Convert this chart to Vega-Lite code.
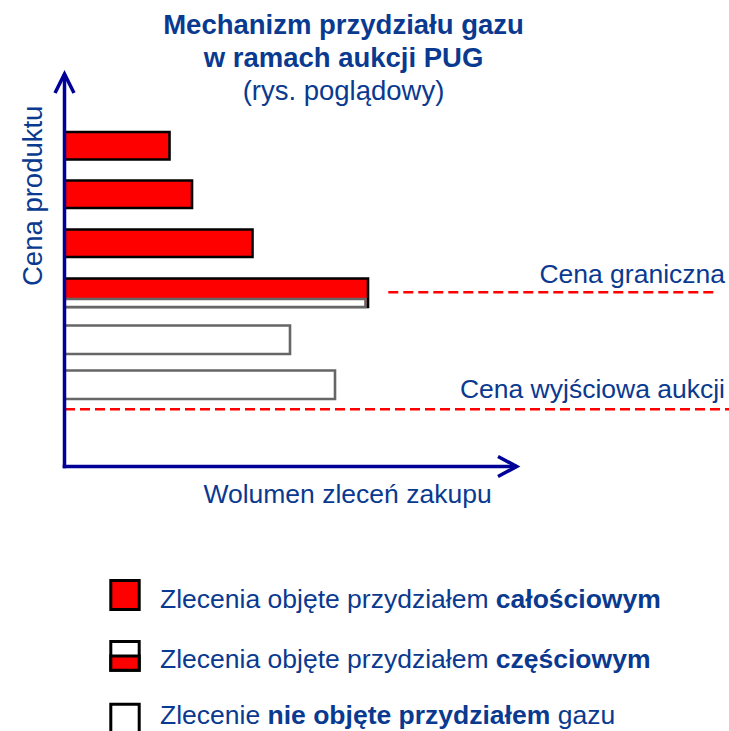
{
  "$schema": "https://vega.github.io/schema/vega-lite/v6.json",
  "width": 729,
  "height": 731,
  "padding": 0,
  "autosize": {"type": "none"},
  "background": "#ffffff",
  "config": {"view": {"stroke": null}, "text": {"font": "Liberation Sans", "color": "#0a3a8f"}},
  "datasets": {
    "zlecenia": [
      {"zlecenie": 1, "czesc": "przydzielona", "wolumen_od": 0, "wolumen": 105, "cena_od": 307, "cena_do": 334.5},
      {"zlecenie": 2, "czesc": "przydzielona", "wolumen_od": 0, "wolumen": 127.5, "cena_od": 258.5, "cena_do": 286},
      {"zlecenie": 3, "czesc": "przydzielona", "wolumen_od": 0, "wolumen": 188, "cena_od": 209.5, "cena_do": 237},
      {"zlecenie": 4, "czesc": "przydzielona", "wolumen_od": 0, "wolumen": 303.5, "cena_od": 159.5, "cena_do": 188},
      {"zlecenie": 4, "czesc": "nieprzydzielona", "wolumen_od": 0, "wolumen": 301, "cena_od": 159.5, "cena_do": 167.5},
      {"zlecenie": 5, "czesc": "nieprzydzielona", "wolumen_od": 0, "wolumen": 225.5, "cena_od": 112.5, "cena_do": 141},
      {"zlecenie": 6, "czesc": "nieprzydzielona", "wolumen_od": 0, "wolumen": 270.5, "cena_od": 67.5, "cena_do": 96}
    ],
    "legenda": [
      {"wpis": 1, "czesc": "przydzielona", "wolumen_od": 46.3, "wolumen_do": 74.7, "cena_od": -143, "cena_do": -114},
      {"wpis": 2, "czesc": "nieprzydzielona", "wolumen_od": 46.3, "wolumen_do": 74.7, "cena_od": -203.7, "cena_do": -175},
      {"wpis": 2, "czesc": "przydzielona", "wolumen_od": 46.3, "wolumen_do": 74.7, "cena_od": -203.7, "cena_do": -189.5},
      {"wpis": 3, "czesc": "nieprzydzielona", "wolumen_od": 46.3, "wolumen_do": 74.7, "cena_od": -268, "cena_do": -237.7}
    ],
    "poziomy": [
      {"nazwa": "Cena graniczna", "cena": 174.2, "wolumen_od": 323.8, "wolumen_do": 652.2},
      {"nazwa": "Cena wyjściowa aukcji", "cena": 57.2, "wolumen_od": 0.5, "wolumen_do": 664.5}
    ],
    "os_cen": [{"wolumen": 0, "cena_od": -1.8, "cena_do": 392.5}],
    "os_wolumenu": [{"cena": 0, "wolumen_od": -1.8, "wolumen_do": 452.2}],
    "groty": [
      {"os": "cena", "wolumen": 0, "cena": 392.5},
      {"os": "wolumen", "wolumen": 452.2, "cena": 0}
    ],
    "tytul": [
      {"tekst": "Mechanizm przydziału gazu", "wolumen": 279, "cena": 432.2},
      {"tekst": "w ramach aukcji PUG", "wolumen": 279, "cena": 399.8}
    ],
    "podtytul": [{"tekst": "(rys. poglądowy)", "wolumen": 279, "cena": 366.5}],
    "etykiety_cen": [
      {"tekst": "Cena graniczna", "wolumen": 660.5, "cena": 183.2},
      {"tekst": "Cena wyjściowa aukcji", "wolumen": 660.5, "cena": 68.8}
    ],
    "tytul_x": [{"tekst": "Wolumen zleceń zakupu", "wolumen": 283, "cena": -36.8}],
    "tytul_y": [{"tekst": "Cena produktu", "wolumen": -23, "cena": 270.7}],
    "legenda_zwykly": [
      {"tekst": "Zlecenia objęte przydziałem", "wolumen": 95.5, "cena": -141.8},
      {"tekst": "Zlecenia objęte przydziałem", "wolumen": 95.5, "cena": -201.2},
      {"tekst": "Zlecenie", "wolumen": 95.5, "cena": -257.8},
      {"tekst": "gazu", "wolumen": 493.2, "cena": -257.8}
    ],
    "legenda_pogrubiony": [
      {"tekst": "całościowym", "wolumen": 431.3, "cena": -141.8},
      {"tekst": "częściowym", "wolumen": 431.3, "cena": -201.2},
      {"tekst": "nie objęte przydziałem", "wolumen": 203, "cena": -257.8}
    ]
  },
  "layer": [
    {
      "data": {"name": "zlecenia"},
      "mark": {"type": "rect", "strokeWidth": 2.6},
      "encoding": {
        "x": {"field": "wolumen_od", "type": "quantitative", "scale": {"domain": [-64.5, 664.5], "nice": false, "zero": false}, "axis": null},
        "x2": {"field": "wolumen"},
        "y": {"field": "cena_od", "type": "quantitative", "scale": {"domain": [-264.5, 466.5], "nice": false, "zero": false}, "axis": null},
        "y2": {"field": "cena_do"},
        "fill": {"field": "czesc", "type": "nominal", "scale": {"domain": ["przydzielona", "nieprzydzielona"], "range": ["#ff0000", "#ffffff"]}, "legend": null},
        "stroke": {"field": "czesc", "type": "nominal", "scale": {"domain": ["przydzielona", "nieprzydzielona"], "range": ["#000000", "#666666"]}, "legend": null}
      }
    },
    {
      "data": {"name": "legenda"},
      "mark": {"type": "rect", "strokeWidth": 3},
      "encoding": {
        "x": {"field": "wolumen_od", "type": "quantitative", "axis": null},
        "x2": {"field": "wolumen_do"},
        "y": {"field": "cena_od", "type": "quantitative", "axis": null},
        "y2": {"field": "cena_do"},
        "fill": {"field": "czesc", "type": "nominal", "legend": null},
        "stroke": {"value": "#000000"}
      }
    },
    {
      "data": {"name": "poziomy"},
      "mark": {"type": "rule", "color": "#ff0000", "strokeWidth": 2.6, "strokeDash": [10, 5]},
      "encoding": {
        "x": {"field": "wolumen_od", "type": "quantitative", "axis": null},
        "x2": {"field": "wolumen_do"},
        "y": {"field": "cena", "type": "quantitative", "axis": null}
      }
    },
    {
      "data": {"name": "os_cen"},
      "mark": {"type": "rule", "color": "#000099", "strokeWidth": 3.5},
      "encoding": {
        "x": {"field": "wolumen", "type": "quantitative", "axis": null},
        "y": {"field": "cena_od", "type": "quantitative", "axis": null},
        "y2": {"field": "cena_do"}
      }
    },
    {
      "data": {"name": "os_wolumenu"},
      "mark": {"type": "rule", "color": "#000099", "strokeWidth": 3.5},
      "encoding": {
        "x": {"field": "wolumen_od", "type": "quantitative", "axis": null},
        "x2": {"field": "wolumen_do"},
        "y": {"field": "cena", "type": "quantitative", "axis": null}
      }
    },
    {
      "data": {"name": "groty"},
      "mark": {"type": "point", "filled": false, "stroke": "#000099", "strokeWidth": 3.5, "size": 400, "opacity": 1, "strokeJoin": "miter"},
      "encoding": {
        "x": {"field": "wolumen", "type": "quantitative", "axis": null},
        "y": {"field": "cena", "type": "quantitative", "axis": null},
        "shape": {"field": "os", "type": "nominal", "scale": {"domain": ["cena", "wolumen"], "range": ["M-0.95,1.9L0,0L0.95,1.9", "M-1.87,-1L0,0L-1.87,1"]}, "legend": null}
      }
    },
    {
      "data": {"name": "tytul"},
      "mark": {"type": "text", "fontSize": 27.5, "fontWeight": "bold", "align": "center", "baseline": "alphabetic"},
      "encoding": {
        "x": {"field": "wolumen", "type": "quantitative", "axis": null},
        "y": {"field": "cena", "type": "quantitative", "axis": null},
        "text": {"field": "tekst", "type": "nominal"}
      }
    },
    {
      "data": {"name": "podtytul"},
      "mark": {"type": "text", "fontSize": 27.5, "align": "center", "baseline": "alphabetic"},
      "encoding": {
        "x": {"field": "wolumen", "type": "quantitative", "axis": null},
        "y": {"field": "cena", "type": "quantitative", "axis": null},
        "text": {"field": "tekst", "type": "nominal"}
      }
    },
    {
      "data": {"name": "etykiety_cen"},
      "mark": {"type": "text", "fontSize": 26.5, "align": "right", "baseline": "alphabetic"},
      "encoding": {
        "x": {"field": "wolumen", "type": "quantitative", "axis": null},
        "y": {"field": "cena", "type": "quantitative", "axis": null},
        "text": {"field": "tekst", "type": "nominal"}
      }
    },
    {
      "data": {"name": "tytul_x"},
      "mark": {"type": "text", "fontSize": 26.5, "align": "center", "baseline": "alphabetic"},
      "encoding": {
        "x": {"field": "wolumen", "type": "quantitative", "axis": null},
        "y": {"field": "cena", "type": "quantitative", "axis": null},
        "text": {"field": "tekst", "type": "nominal"}
      }
    },
    {
      "data": {"name": "tytul_y"},
      "mark": {"type": "text", "fontSize": 27.5, "align": "center", "baseline": "alphabetic", "angle": 270},
      "encoding": {
        "x": {"field": "wolumen", "type": "quantitative", "axis": null},
        "y": {"field": "cena", "type": "quantitative", "axis": null},
        "text": {"field": "tekst", "type": "nominal"}
      }
    },
    {
      "data": {"name": "legenda_zwykly"},
      "mark": {"type": "text", "fontSize": 26.5, "align": "left", "baseline": "alphabetic"},
      "encoding": {
        "x": {"field": "wolumen", "type": "quantitative", "axis": null},
        "y": {"field": "cena", "type": "quantitative", "axis": null},
        "text": {"field": "tekst", "type": "nominal"}
      }
    },
    {
      "data": {"name": "legenda_pogrubiony"},
      "mark": {"type": "text", "fontSize": 26.5, "fontWeight": "bold", "align": "left", "baseline": "alphabetic"},
      "encoding": {
        "x": {"field": "wolumen", "type": "quantitative", "axis": null},
        "y": {"field": "cena", "type": "quantitative", "axis": null},
        "text": {"field": "tekst", "type": "nominal"}
      }
    }
  ]
}
